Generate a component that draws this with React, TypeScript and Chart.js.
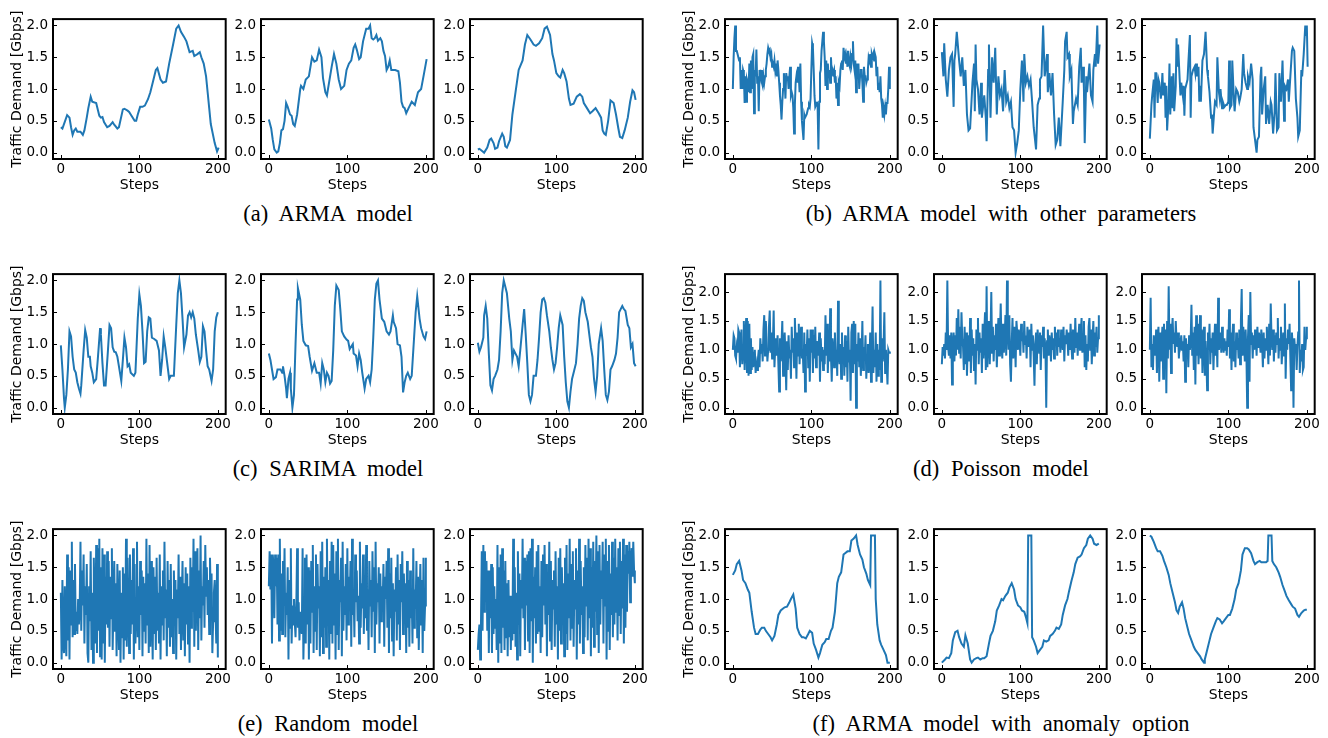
import React, { useEffect, useRef } from "react";
import { Chart, registerables } from "chart.js";
Chart.register(...registerables);

const BLUE = "#1f77b4";
const X_TICKS = [0, 100, 200];
const Y_TICKS = [0, 0.5, 1.0, 1.5, 2.0];
const Y_TITLE = "Traffic Demand [Gbps]";
const X_TITLE = "Steps";
const CAPTIONS = [
  "(a) ARMA model",
  "(b) ARMA model with other parameters",
  "(c) SARIMA model",
  "(d) Poisson model",
  "(e) Random model",
  "(f) ARMA model with anomaly option",
];

// ---- (a) ARMA model ----
const A1_STEPS = [0,2,8,11,13,15,17,19,21,25,28,30,33,35,38,40,45,49,51,53,55,59,62,66,68,72,74,79,81,85,87,89,94,96,98,101,104,107,111,114,117,121,123,127,130,134,138,143,147,150,153,157,160,164,168,170,174,177,179,182,185,187,189,191,196,199,201];
const A1_VALUES = [0.40,0.38,0.59,0.55,0.40,0.28,0.35,0.38,0.33,0.33,0.28,0.35,0.55,0.70,0.88,0.80,0.78,0.58,0.55,0.56,0.48,0.40,0.42,0.48,0.44,0.38,0.40,0.68,0.69,0.66,0.64,0.60,0.50,0.50,0.60,0.72,0.72,0.74,0.84,0.95,1.10,1.30,1.33,1.15,1.10,1.12,1.40,1.70,1.95,2.00,1.90,1.82,1.75,1.58,1.60,1.52,1.55,1.58,1.50,1.40,1.20,0.95,0.70,0.45,0.15,0.02,0.08];
const A2_STEPS = [0,3,5,7,10,12,14,16,18,20,22,24,27,29,31,33,36,40,41,44,47,51,55,58,61,64,67,69,72,74,76,80,83,86,89,92,96,99,102,105,108,110,112,115,117,120,124,127,129,131,133,135,137,139,142,144,146,148,150,152,154,156,161,165,167,169,171,173,175,178,182,186,188,190,194,197,201];
const A2_VALUES = [0.52,0.38,0.2,0.05,0.0,0.02,0.15,0.35,0.37,0.5,0.78,0.72,0.6,0.58,0.45,0.42,0.6,1.0,1.05,1.0,1.15,1.2,1.5,1.43,1.45,1.62,1.5,1.17,0.95,0.9,1.05,1.35,1.55,1.4,1.15,1.0,1.05,1.3,1.4,1.45,1.65,1.7,1.62,1.47,1.5,1.75,1.95,1.95,2.0,1.8,1.78,1.8,1.85,1.76,1.8,1.75,1.6,1.52,1.3,1.35,1.45,1.3,1.3,1.28,1.1,0.8,0.72,0.7,0.62,0.7,0.8,0.75,0.85,0.95,1.0,1.2,1.47];
const A3_STEPS = [0,2,5,8,12,15,17,20,22,25,27,31,33,35,37,41,44,48,52,57,60,63,67,71,74,78,82,85,88,92,95,97,100,103,105,108,110,113,116,118,122,126,130,133,135,140,143,146,150,154,157,159,161,163,166,169,173,176,179,181,184,187,191,194,197,199,201];
const A3_VALUES = [0.05,0.06,0.03,0.0,0.08,0.2,0.22,0.15,0.06,0.08,0.18,0.3,0.25,0.1,0.08,0.2,0.6,0.95,1.3,1.45,1.7,1.85,1.78,1.7,1.68,1.72,1.8,1.95,1.98,1.85,1.55,1.45,1.25,1.2,1.18,1.3,1.25,1.12,0.85,0.75,0.77,0.88,0.92,0.88,0.78,0.68,0.62,0.65,0.7,0.62,0.55,0.35,0.3,0.28,0.5,0.82,0.78,0.6,0.38,0.25,0.23,0.35,0.55,0.8,0.98,0.95,0.83];

// ---- (b) ARMA model with other parameters ----
const B1_VALUES = [
  1.0,1.5,1.8,2.0,1.6,1.6,1.55,1.5,1.45,1.5,1.0,1.3,1.0,1.3,1.25,0.78,1.2,0.8,1.15,1.1,
  0.95,1.4,0.95,1.45,1.0,1.5,1.55,0.62,1.3,1.2,1.62,1.1,1.2,0.65,1.3,1.2,1.3,1.1,1.05,1.2,
  1.1,1.2,1.3,1.4,1.55,1.65,1.6,1.62,1.5,1.55,1.35,1.4,1.35,1.45,1.3,1.4,1.2,1.45,1.3,1.1,
  0.9,0.75,0.52,0.8,1.0,1.25,1.1,0.85,1.25,1.15,1.2,1.0,1.2,1.35,0.9,0.95,0.9,0.7,0.3,0.75,
  1.1,1.2,1.1,1.35,1.2,0.95,1.4,0.8,0.5,0.35,0.2,0.6,0.55,0.55,0.6,0.65,0.7,0.75,0.72,0.85,
  1.3,1.72,1.65,1.3,0.9,0.72,0.75,0.8,0.72,0.05,0.8,1.25,1.3,1.6,1.75,1.9,1.75,1.5,1.05,1.45,
  1.0,1.4,1.2,1.3,1.1,1.5,1.2,1.3,1.25,1.3,1.1,1.2,0.85,1.1,0.75,1.1,1.05,1.3,1.4,1.45,
  1.3,1.65,1.5,1.55,1.4,1.5,1.35,1.6,1.4,1.35,1.5,1.4,1.55,1.75,1.4,1.3,1.45,0.95,1.4,1.2,
  1.4,1.0,1.2,1.3,1.3,1.1,0.8,1.35,1.2,1.2,1.1,1.15,1.3,1.5,1.45,1.55,1.35,1.55,1.5,1.55,
  1.45,1.55,1.5,1.2,1.35,1.0,1.1,0.95,1.2,0.85,0.75,0.55,0.7,0.6,0.72,0.6,0.78,0.78,1.0,1.35,
  1.0,
];
const B2_STEPS = [0,2,3,5,7,9,11,13,15,16,17,19,22,24,26,28,30,32,34,36,39,41,42,43,44,46,48,50,51,54,56,57,59,60,62,64,66,68,70,72,74,76,78,80,82,84,86,88,90,92,94,96,98,100,102,104,105,107,109,111,113,115,117,120,122,124,125,127,129,131,132,134,135,137,139,141,143,145,147,149,151,154,156,157,159,160,162,163,165,167,168,171,173,175,177,178,180,181,182,184,185,188,190,192,193,195,196,198,199,201];
const B2_VALUES = [1.58,1.2,1.72,1.15,0.88,1.3,1.5,1.55,0.72,1.45,1.55,1.9,1.45,1.2,1.5,1.05,1.3,0.6,0.35,0.38,1.1,1.4,0.65,1.7,1.15,1.0,0.6,1.1,0.55,0.9,0.55,0.18,1.3,1.7,0.55,1.5,1.1,1.65,0.6,1.2,0.9,1.0,0.65,1.3,0.8,0.9,0.7,0.8,0.4,0.35,0.0,0.15,0.35,1.0,1.45,0.8,1.55,1.1,1.2,1.05,1.15,0.8,0.4,0.05,0.75,0.85,1.15,1.2,2.0,1.2,1.3,1.55,0.95,1.25,0.9,1.25,0.6,0.12,0.2,0.55,0.1,0.8,1.3,1.75,1.9,1.5,1.55,1.2,1.3,0.45,0.65,0.85,0.75,1.35,1.65,1.1,1.35,1.0,0.15,1.2,0.95,1.4,0.9,0.8,1.3,1.55,1.35,2.0,1.4,1.7];
const B3_STEPS = [0,2,3,5,6,7,8,10,11,12,14,15,16,17,19,20,21,22,24,25,26,28,29,30,31,33,34,35,36,38,39,40,42,43,44,45,47,48,49,51,52,53,55,57,58,59,60,62,63,64,65,67,68,69,71,73,74,76,78,79,80,82,83,85,86,88,89,90,92,93,95,97,98,100,101,102,104,105,107,108,110,112,114,115,117,119,120,122,124,125,127,129,131,132,134,136,137,139,141,142,143,145,147,148,150,152,154,155,157,159,160,162,164,165,167,169,171,172,174,176,177,179,181,182,184,186,188,189,191,193,194,196,198,199,200,201];
const B3_VALUES = [0.22,0.75,0.9,1.15,0.55,1.25,1.25,0.78,1.15,1.1,0.85,1.0,1.25,0.9,1.1,0.55,1.05,0.35,0.85,1.4,0.6,1.2,0.7,1.25,0.65,1.05,1.8,1.35,1.7,1.15,0.9,1.1,0.9,1.05,0.58,1.0,1.1,1.15,1.4,1.85,0.55,1.2,1.3,1.35,1.25,1.4,1.2,1.35,0.8,1.05,0.8,1.45,1.5,1.55,1.9,1.3,1.2,0.95,0.55,0.6,0.3,0.65,0.8,0.75,1.5,0.95,0.85,1.0,0.7,0.8,0.72,0.75,0.75,0.8,1.45,0.7,0.75,1.45,0.85,0.65,1.0,0.95,0.8,0.85,1.0,1.55,1.25,1.1,1.0,1.2,1.1,1.4,1.15,0.4,0.2,0.0,0.2,0.25,1.2,1.35,0.6,1.0,1.2,0.45,0.75,0.45,0.8,0.75,0.3,0.65,1.25,0.35,0.4,1.25,0.8,1.45,0.5,1.05,1.0,1.15,0.8,1.2,1.6,1.65,1.6,0.85,0.55,0.25,0.35,1.3,1.2,1.55,2.0,1.85,2.0,1.35];

// ---- (c) SARIMA model ----
const C1_STEPS = [0,2,4,5,7,9,11,13,15,17,19,21,23,25,26,29,31,33,35,37,38,40,42,45,47,50,51,53,55,57,60,62,64,66,68,70,72,74,77,79,81,83,85,87,89,93,95,98,100,102,104,106,108,110,112,114,116,119,122,125,127,129,131,133,136,138,140,144,147,149,151,153,155,157,160,162,164,166,168,170,172,175,177,179,181,183,185,187,189,192,194,196,198,200];
const C1_VALUES = [0.98,0.6,0.15,0.0,0.2,0.6,1.2,1.12,0.8,0.6,0.55,0.4,0.3,0.22,0.35,0.9,1.22,1.1,0.8,0.8,0.65,0.55,0.4,0.45,0.75,1.25,1.15,0.7,0.35,0.35,0.9,1.3,1.25,0.95,0.88,0.87,0.8,0.65,0.42,0.75,1.1,0.95,0.65,0.68,0.55,0.5,0.55,1.4,1.78,1.6,1.2,0.7,0.72,1.2,1.42,1.4,1.1,1.08,1.05,0.9,0.5,0.75,1.12,0.95,0.65,0.45,0.5,0.5,1.3,1.8,2.0,1.8,1.4,0.95,1.15,1.45,1.5,1.42,1.5,1.4,1.15,0.9,0.72,0.8,1.28,1.2,0.9,0.65,0.6,0.42,0.6,1.2,1.42,1.5];
const C2_STEPS = [0,2,4,6,9,11,15,17,18,20,22,23,25,27,28,30,32,34,36,37,40,42,44,47,50,52,55,58,61,64,66,68,70,72,74,76,78,80,82,84,86,89,91,93,96,99,101,103,107,108,111,113,115,117,119,122,124,127,129,131,133,135,137,139,141,144,147,150,153,155,158,159,162,164,167,169,171,173,175,177,180,182,185,187,189,192,194,197,199,201];
const C2_VALUES = [0.85,0.75,0.6,0.45,0.48,0.6,0.6,0.55,0.65,0.5,0.3,0.15,0.45,0.55,0.3,0.0,0.2,1.0,1.7,1.88,1.7,1.3,1.05,0.98,0.97,0.8,0.58,0.7,0.55,0.55,0.38,0.7,0.6,0.4,0.55,0.5,0.38,0.42,0.9,1.6,1.92,1.85,1.55,1.2,1.12,1.07,1.05,0.92,1.0,0.85,0.82,0.65,0.85,0.75,0.55,0.3,0.45,0.5,0.4,0.6,1.1,1.7,1.95,2.0,1.7,1.4,1.35,1.2,1.15,1.2,1.45,1.35,1.25,1.0,0.98,0.8,0.24,0.4,0.5,0.55,0.45,0.5,1.1,1.5,1.75,1.4,1.25,1.12,1.08,1.2];
const C3_STEPS = [0,2,4,7,8,10,12,14,16,18,20,22,25,27,29,31,33,35,37,40,42,44,46,48,50,52,54,57,59,61,63,65,67,69,71,74,76,78,80,82,84,86,88,91,93,95,97,99,101,103,105,108,110,112,114,116,118,120,122,125,127,129,131,133,135,137,140,142,144,146,148,150,152,154,157,159,161,163,165,167,169,171,174,176,178,180,182,184,186,188,191,193,195,197,199,201];
const C3_VALUES = [1.02,0.88,0.95,1.1,1.45,1.6,1.4,0.85,0.35,0.27,0.45,0.5,0.6,0.75,1.2,1.8,2.0,1.9,1.8,1.4,1.2,0.75,0.9,0.85,0.8,0.65,0.9,1.3,1.55,1.15,0.7,0.2,0.1,0.2,0.5,0.5,0.75,1.1,1.5,1.7,1.72,1.65,1.45,1.2,0.95,0.75,0.6,0.7,0.95,1.25,1.45,1.3,0.8,0.4,0.1,0.0,0.25,0.45,0.55,0.7,1.0,1.4,1.6,1.72,1.68,1.5,1.35,1.15,0.95,0.8,0.45,0.25,0.5,1.0,1.25,1.05,0.6,0.2,0.12,0.25,0.6,0.65,0.75,0.85,1.1,1.5,1.55,1.6,1.55,1.52,1.3,1.25,0.95,1.0,0.7,0.65];

// ---- (d) Poisson model ----
const D1_VALUES = [
  1.0,1.25,1.2,0.9,0.85,1.05,0.95,1.35,1.3,0.7,1.1,1.35,0.75,1.05,1.5,0.65,1.2,1.55,0.6,1.5,
  0.55,1.45,0.6,1.2,0.65,1.05,0.7,0.95,1.0,0.6,0.75,0.65,0.85,1.0,0.7,1.2,0.95,1.1,0.8,1.35,
  1.6,0.9,1.5,1.2,0.8,1.0,1.4,1.68,0.95,1.3,0.85,1.1,1.68,0.7,1.05,1.2,0.9,1.25,0.75,0.28,
  1.2,0.8,1.1,1.5,0.55,1.0,1.3,0.9,0.3,1.15,0.65,1.25,0.85,1.0,0.5,1.4,0.95,1.2,0.7,1.55,
  1.1,0.5,1.3,0.9,1.45,0.75,1.2,1.4,0.85,1.0,0.6,1.3,0.28,1.1,0.9,1.35,0.7,1.2,0.45,1.35,
  0.95,1.35,0.6,1.25,0.85,1.4,0.7,1.15,1.0,0.9,1.3,0.45,1.2,0.8,1.05,0.65,1.0,0.75,1.6,0.9,
  1.45,0.6,1.1,0.8,1.72,0.9,0.45,1.2,1.05,0.7,1.3,0.85,1.0,0.55,1.85,0.95,0.75,1.1,0.5,1.3,
  0.8,1.05,0.55,1.25,0.7,1.15,0.45,1.4,0.8,1.0,0.12,1.3,1.45,0.6,1.5,0.75,1.45,0.0,1.1,0.8,
  1.3,0.7,1.2,0.55,0.9,1.5,0.65,1.05,0.85,1.25,0.5,0.9,1.1,0.6,0.8,1.3,0.45,0.95,1.75,0.6,
  1.0,0.7,1.3,0.45,1.1,0.55,1.0,0.65,2.2,0.45,1.2,0.8,1.05,1.65,0.6,1.0,0.75,0.4,1.0,0.95,
  0.97,
];
const D2_VALUES = [
  0.75,1.05,0.9,1.1,0.85,1.3,1.0,2.2,1.05,0.9,1.25,0.85,1.3,0.4,1.1,1.3,0.8,1.25,0.9,1.55,
  1.0,1.7,0.95,1.4,0.85,1.65,1.2,1.05,0.65,1.4,0.75,1.3,0.55,1.1,1.25,0.8,1.55,0.6,1.35,0.9,
  1.2,0.65,1.1,0.4,1.35,1.0,1.55,0.75,1.3,0.95,1.2,0.6,1.45,0.85,1.25,1.65,0.65,2.1,0.7,1.3,
  1.5,0.75,1.2,2.0,0.95,1.4,0.8,1.25,1.0,1.45,0.7,1.1,1.55,0.9,1.3,1.8,1.05,0.85,1.45,0.95,
  1.2,1.6,0.9,2.2,1.35,1.0,1.6,0.75,0.45,1.1,1.55,0.85,1.4,1.2,0.7,1.5,1.3,1.0,1.35,1.15,
  0.9,1.45,1.15,1.3,0.95,1.5,1.1,1.25,0.85,1.4,1.2,1.05,1.35,0.7,1.45,1.0,1.25,0.9,0.38,1.1,
  1.3,0.75,1.35,1.1,0.95,1.3,0.65,1.25,1.05,1.4,0.85,1.2,1.0,0.0,1.15,1.35,0.9,1.25,1.1,0.8,
  1.3,1.0,1.2,0.85,1.4,1.1,1.3,0.9,1.35,1.05,1.2,0.95,1.35,1.15,1.0,1.4,0.8,1.25,1.1,1.35,
  1.2,0.9,1.3,1.0,1.45,1.1,0.85,1.35,1.2,0.95,1.55,1.05,1.3,0.9,1.2,1.45,1.0,1.3,1.55,0.95,
  1.15,1.5,0.7,1.25,0.65,1.1,0.8,1.4,1.55,1.0,1.35,0.75,1.2,1.5,0.9,1.3,1.05,1.4,0.95,1.2,
  1.6,
];
const D3_VALUES = [
  1.0,1.9,0.7,1.1,0.65,1.25,1.05,0.9,1.35,0.6,1.2,1.4,0.45,1.3,0.8,1.15,1.4,0.5,1.45,0.9,
  1.35,0.25,1.5,0.85,2.1,1.0,1.45,0.6,1.3,1.55,1.1,1.3,0.95,1.5,1.15,1.05,1.3,0.85,1.2,1.1,
  1.25,1.0,1.15,0.8,1.25,0.45,1.2,0.95,1.1,0.7,1.25,1.0,1.15,1.78,0.9,1.3,0.65,1.4,0.4,1.6,
  0.9,1.45,0.75,1.2,1.6,0.85,1.35,0.6,1.2,1.4,0.55,1.15,0.85,0.3,1.3,1.0,1.45,0.75,1.2,0.95,
  1.3,0.65,1.1,1.45,0.9,1.25,0.7,1.9,1.0,1.15,1.3,0.95,1.4,1.1,0.95,1.2,1.0,1.15,0.9,1.35,
  1.05,1.7,0.85,1.3,0.65,1.2,1.45,0.8,1.15,0.7,1.3,1.0,1.2,0.85,1.35,0.75,1.5,2.05,0.9,1.4,
  1.1,0.8,1.35,0.95,0.0,1.2,1.6,0.45,2.0,1.1,1.3,0.85,1.25,1.0,1.35,1.2,0.9,1.4,1.05,1.3,
  1.15,0.95,1.35,1.1,0.7,1.3,0.85,1.2,1.0,1.4,1.1,0.75,1.45,0.9,1.8,1.2,1.0,1.35,0.8,1.25,
  0.95,1.3,1.1,1.55,0.85,1.2,1.0,1.4,0.75,1.1,1.3,0.9,1.8,0.5,1.2,1.0,1.35,1.1,1.45,0.85,
  0.3,1.3,1.05,0.0,1.2,1.0,1.1,0.65,1.05,1.3,2.2,0.6,1.0,0.8,1.1,0.65,0.7,1.4,1.0,1.2,
  1.4,
];

// ---- (e) Random model ----
const E1_VALUES = [
  1.1,0.05,1.3,0.3,0.15,1.2,0.4,0.1,1.7,0.35,1.5,0.05,1.45,0.6,1.9,0.4,1.3,0.45,1.55,0.5,
  0.8,0.45,1.0,0.6,0.85,1.9,0.5,1.45,0.9,1.7,0.3,1.2,0.75,1.55,0.15,0.0,1.2,0.65,1.75,0.2,
  1.1,0.0,1.65,0.9,0.3,1.85,0.15,1.8,0.5,1.95,0.1,1.5,0.05,1.8,0.3,1.7,0.0,1.35,0.6,1.75,
  0.55,1.6,0.25,1.35,0.7,1.8,0.2,0.9,1.6,0.5,1.25,0.1,1.55,0.8,0.2,1.45,0.0,1.1,0.4,1.5,
  0.05,1.4,0.35,1.95,0.25,1.65,0.9,0.15,1.7,0.45,1.3,0.6,1.8,0.05,1.55,0.3,0.85,1.9,0.4,1.2,
  0.2,1.6,0.75,1.45,0.1,1.35,0.5,1.25,0.3,1.95,0.6,1.4,0.15,1.85,0.25,1.6,0.85,0.05,1.5,0.45,
  1.35,0.2,1.65,0.5,1.1,0.3,1.7,0.05,1.2,0.6,1.45,0.35,1.9,0.7,1.15,0.1,1.6,0.55,1.3,0.25,
  1.55,0.4,1.0,0.15,1.45,0.65,1.3,0.05,1.15,0.7,1.7,0.45,1.35,0.2,0.9,1.6,0.35,1.25,0.1,1.5,
  0.6,1.4,0.3,1.2,0.0,1.65,0.55,1.5,0.8,1.95,0.25,1.75,0.5,1.3,1.8,0.2,1.45,0.7,2.0,0.35,
  1.2,0.9,1.6,0.55,1.85,1.05,1.5,0.75,1.3,0.45,1.65,1.0,1.4,0.15,0.65,1.1,1.3,0.8,0.3,1.55,
  0.08,
];
const E2_VALUES = [
  1.2,1.75,1.15,1.7,0.3,1.7,1.5,0.7,1.7,1.2,1.65,0.6,1.7,0.35,1.95,0.5,1.4,0.45,1.6,0.9,
  1.8,0.4,1.1,0.75,1.5,0.05,1.3,0.55,1.8,0.3,0.9,0.6,1.0,0.65,0.4,0.9,1.8,0.55,0.95,0.35,
  0.8,0.6,0.45,1.8,0.05,0.7,1.65,0.3,1.7,0.6,1.5,0.05,1.45,0.3,1.6,0.8,1.85,0.15,1.2,0.5,
  1.7,0.2,1.55,0.85,1.2,0.1,1.75,0.4,1.9,0.15,1.35,0.55,1.5,0.25,1.95,0.7,1.3,0.05,1.6,0.45,
  1.9,0.3,1.85,0.6,1.4,0.05,1.75,0.45,1.95,0.2,1.3,0.95,1.65,0.1,1.9,0.5,1.2,0.75,1.55,0.35,
  1.8,0.6,1.35,0.9,1.6,0.25,1.95,0.75,1.1,0.4,1.7,0.95,1.45,0.65,1.05,0.3,1.9,0.55,1.25,0.85,
  1.7,0.45,1.3,0.7,1.85,0.5,1.15,0.2,1.6,0.9,1.3,0.4,1.75,0.8,1.5,0.15,1.9,0.6,1.25,0.95,
  1.5,0.3,1.4,0.65,1.2,0.9,1.55,0.25,1.35,1.0,1.6,0.55,1.8,0.15,1.4,0.7,1.65,0.35,1.25,0.1,
  1.15,0.8,1.5,0.35,1.7,0.6,1.3,0.2,1.55,0.95,1.75,0.45,1.4,0.75,1.25,0.15,1.6,0.55,1.3,0.25,
  1.45,0.7,1.05,0.3,1.8,0.55,1.15,0.85,1.6,0.4,1.35,0.2,0.95,1.55,0.6,1.3,0.15,1.65,0.5,0.9,
  1.65,
];
const E3_VALUES = [
  0.2,0.45,0.6,0.05,0.6,1.75,0.5,1.85,0.8,1.75,1.1,1.6,0.5,1.45,0.15,1.45,0.7,1.55,0.15,1.5,
  0.45,1.2,0.55,1.0,0.2,1.85,0.0,1.5,0.3,1.7,0.15,1.8,0.55,1.45,0.2,1.6,0.4,1.25,0.1,1.3,
  0.4,1.05,0.2,0.9,0.35,1.95,0.45,1.5,0.25,1.1,0.05,1.75,0.6,1.4,0.1,1.3,0.85,1.95,0.7,1.65,
  0.2,1.6,0.9,1.7,0.35,1.75,0.15,1.8,0.65,1.95,0.0,1.35,0.7,1.5,0.3,1.75,0.45,1.85,0.5,1.2,
  0.15,1.6,0.4,1.7,0.9,1.85,0.6,1.55,0.1,1.4,0.75,1.9,0.35,1.6,0.2,1.3,0.85,1.45,0.25,1.75,
  0.6,1.2,0.05,1.65,0.5,1.8,0.3,1.5,0.9,1.25,0.1,1.65,0.45,1.85,0.2,1.4,0.7,1.95,0.35,1.55,
  0.55,1.75,0.25,1.3,0.85,1.8,0.05,1.45,0.6,1.95,0.3,1.6,0.75,1.2,0.15,1.5,0.4,1.85,0.9,1.65,
  0.35,1.95,0.7,1.8,0.1,1.5,0.55,1.9,0.25,1.6,0.8,2.0,0.45,1.75,0.15,1.85,0.6,1.45,1.0,1.9,
  0.3,1.7,0.9,1.95,0.05,1.6,0.5,1.85,0.2,1.4,0.75,1.9,0.4,1.65,0.6,1.95,0.8,1.5,0.35,1.8,
  0.75,1.9,0.45,1.6,0.85,1.95,0.3,1.7,0.55,1.85,0.8,1.75,1.4,1.9,0.95,1.6,1.8,1.35,1.9,1.45,
  1.25,
];

// ---- (f) ARMA model with anomaly option ----
const F1_STEPS = [0,3,5,8,11,13,16,19,21,24,27,29,32,35,37,40,42,45,48,50,53,56,58,61,64,66,69,72,74,77,80,82,85,88,90,93,96,98,101,103,106,109,111,114,117,119,122,125,127,130,133,135,138,141,143,146,149,151,154,157,159,162,165,167,170,172,175,176,181,182,184,187,189,192,195,197,200];
const F1_VALUES = [1.38,1.45,1.55,1.6,1.45,1.3,1.25,1.15,1.1,0.8,0.55,0.45,0.45,0.52,0.55,0.55,0.5,0.45,0.4,0.35,0.42,0.6,0.75,0.82,0.85,0.87,0.88,0.95,1.0,1.07,0.85,0.55,0.45,0.4,0.4,0.38,0.45,0.5,0.47,0.3,0.2,0.08,0.15,0.28,0.32,0.37,0.37,0.5,0.55,0.8,1.25,1.35,1.42,1.7,1.72,1.75,1.75,1.92,1.95,2.0,1.85,1.7,1.62,1.5,1.4,1.3,1.22,2.0,2.0,1.0,0.6,0.35,0.28,0.2,0.12,0.0,0.0];
const F2_STEPS = [0,4,6,9,12,14,17,20,22,25,28,30,33,36,38,41,44,46,49,52,54,57,60,62,65,68,70,73,76,78,81,84,86,89,92,94,97,100,102,105,107,109,110,114,115,117,120,122,125,128,130,133,136,138,141,144,146,149,152,154,157,160,162,165,168,170,173,176,178,181,184,186,189,192,194,197,200];
const F2_VALUES = [0.0,0.05,0.08,0.07,0.15,0.35,0.48,0.5,0.4,0.3,0.25,0.43,0.3,0.05,0.0,0.05,0.07,0.08,0.05,0.07,0.07,0.1,0.3,0.42,0.5,0.65,0.82,0.9,1.0,0.98,1.05,1.1,1.18,1.25,1.15,1.0,0.9,0.87,0.82,0.8,0.72,0.62,2.0,2.0,0.4,0.35,0.25,0.15,0.2,0.25,0.35,0.33,0.35,0.42,0.45,0.5,0.55,0.53,0.6,0.75,0.9,1.0,1.12,1.28,1.42,1.55,1.65,1.67,1.7,1.8,1.85,1.95,2.0,1.95,1.87,1.85,1.87];
const F3_STEPS = [0,2,5,8,10,13,16,18,21,24,26,29,32,34,36,38,41,43,45,48,50,53,56,58,61,64,66,69,70,73,76,78,81,84,86,89,92,94,97,100,102,105,108,110,113,116,118,121,124,126,129,132,134,137,140,142,145,148,150,151,155,156,158,161,164,166,169,172,174,177,180,182,185,188,190,193,196,198,200];
const F3_VALUES = [2.0,1.98,1.9,1.8,1.75,1.75,1.68,1.6,1.5,1.38,1.25,1.1,0.95,0.82,0.78,0.88,0.95,0.85,0.7,0.55,0.45,0.35,0.25,0.2,0.15,0.1,0.05,0.0,0.05,0.2,0.35,0.45,0.55,0.65,0.7,0.68,0.62,0.65,0.7,0.75,0.75,0.85,1.0,1.15,1.25,1.45,1.7,1.8,1.8,1.78,1.72,1.6,1.55,1.58,1.6,1.58,1.58,1.58,1.6,2.0,2.0,1.6,1.55,1.5,1.42,1.35,1.22,1.12,1.05,0.98,0.92,0.88,0.85,0.75,0.72,0.78,0.82,0.83,0.83];

// ---- layout ----
const PLOT_W = 174;
const PLOT_H = 147;
const AXIS_W = 52;
const AXIS_H = 40;
const PAD_T = 6;
const PAD_R = 6;
const GROUP_PLOT_LEFT = [
  [53, 261, 470],
  [725, 934, 1142],
];
const ROW_TOP = [12, 267, 522];
const CAPTION_X = [328, 1001];
const CAPTION_Y = [214, 469, 724];

type Panel = {
  row: number;
  group: number;
  col: number;
  steps: number[] | null;
  values: number[];
  yMin: number;
  yMax: number;
};

const NORMAL: [number, number] = [-0.1, 2.1];
const POISSON: [number, number] = [-0.11, 2.31];

function panel(row: number, group: number, col: number, values: number[], steps: number[] | null, range: [number, number]): Panel {
  return { row, group, col, steps, values, yMin: range[0], yMax: range[1] };
}

const PANELS: Panel[] = [
  panel(0, 0, 0, A1_VALUES, A1_STEPS, NORMAL),
  panel(0, 0, 1, A2_VALUES, A2_STEPS, NORMAL),
  panel(0, 0, 2, A3_VALUES, A3_STEPS, NORMAL),
  panel(0, 1, 0, B1_VALUES, null, NORMAL),
  panel(0, 1, 1, B2_VALUES, B2_STEPS, NORMAL),
  panel(0, 1, 2, B3_VALUES, B3_STEPS, NORMAL),
  panel(1, 0, 0, C1_VALUES, C1_STEPS, NORMAL),
  panel(1, 0, 1, C2_VALUES, C2_STEPS, NORMAL),
  panel(1, 0, 2, C3_VALUES, C3_STEPS, NORMAL),
  panel(1, 1, 0, D1_VALUES, null, POISSON),
  panel(1, 1, 1, D2_VALUES, null, POISSON),
  panel(1, 1, 2, D3_VALUES, null, POISSON),
  panel(2, 0, 0, E1_VALUES, null, NORMAL),
  panel(2, 0, 1, E2_VALUES, null, NORMAL),
  panel(2, 0, 2, E3_VALUES, null, NORMAL),
  panel(2, 1, 0, F1_VALUES, F1_STEPS, NORMAL),
  panel(2, 1, 1, F2_VALUES, F2_STEPS, NORMAL),
  panel(2, 1, 2, F3_VALUES, F3_STEPS, NORMAL),
];

const FONT = "'DejaVu Sans', sans-serif";
const TEXT = "#000000";

const framePlugin = {
  id: "frameTicks",
  afterDraw(chart: any) {
    const { ctx, chartArea: a, scales } = chart;
    const xs = scales.x;
    const ys = scales.y;
    ctx.save();
    ctx.strokeStyle = "#000";
    ctx.lineWidth = 1;
    ctx.beginPath();
    for (const t of xs.ticks) {
      const px = Math.round(xs.getPixelForValue(t.value)) + 0.5;
      ctx.moveTo(px, a.bottom);
      ctx.lineTo(px, a.bottom - 4);
    }
    for (const t of ys.ticks) {
      const py = Math.round(ys.getPixelForValue(t.value)) + 0.5;
      ctx.moveTo(a.left, py);
      ctx.lineTo(a.left + 4, py);
    }
    ctx.stroke();
    ctx.lineWidth = 2;
    ctx.strokeRect(a.left, a.top, a.right - a.left, a.bottom - a.top);
    ctx.restore();
  },
};

function makeChart(canvas: HTMLCanvasElement, p: Panel): Chart {
  const data = p.values.map((v, i) => ({ x: p.steps ? p.steps[i] : i, y: v }));
  const showYTitle = p.col === 0;
  return new Chart(canvas, {
    type: "line",
    data: {
      datasets: [
        {
          data,
          borderColor: BLUE,
          borderWidth: 2,
          pointRadius: 0,
          tension: 0,
          fill: false,
        },
      ],
    },
    options: {
      responsive: false,
      animation: false,
      devicePixelRatio: 1,
      layout: { padding: { top: PAD_T, right: PAD_R, left: 0, bottom: 0 } },
      plugins: { legend: { display: false }, tooltip: { enabled: false } },
      scales: {
        x: {
          type: "linear",
          min: -10,
          max: 210,
          grid: { display: false, drawTicks: false },
          border: { display: false },
          afterBuildTicks: (s: any) => {
            s.ticks = X_TICKS.map((v) => ({ value: v }));
          },
          afterFit: (s: any) => {
            s.height = AXIS_H;
          },
          ticks: {
            padding: 2,
            maxRotation: 0,
            autoSkip: false,
            color: TEXT,
            font: { family: FONT, size: 13.5 },
            callback: (v: any) => String(v),
          },
          title: {
            display: true,
            text: X_TITLE,
            color: TEXT,
            font: { family: FONT, size: 14 },
            padding: { top: 0, bottom: 5.6 },
          },
        },
        y: {
          type: "linear",
          min: p.yMin,
          max: p.yMax,
          grid: { display: false, drawTicks: false },
          border: { display: false },
          afterBuildTicks: (s: any) => {
            s.ticks = Y_TICKS.map((v) => ({ value: v }));
          },
          afterFit: (s: any) => {
            s.width = AXIS_W;
          },
          ticks: {
            padding: 5,
            autoSkip: false,
            color: TEXT,
            font: { family: FONT, size: 13.5 },
            callback: (v: any) => Number(v).toFixed(1),
          },
          title: {
            display: showYTitle,
            text: Y_TITLE,
            color: TEXT,
            font: { family: FONT, size: 14 },
            padding: { top: 7.6, bottom: 0 },
          },
        },
      },
    },
    plugins: [framePlugin],
  } as any);
}

export default function App() {
  const refs = useRef<(HTMLCanvasElement | null)[]>([]);

  useEffect(() => {
    const charts: Chart[] = [];
    PANELS.forEach((p, i) => {
      const c = refs.current[i];
      if (c) charts.push(makeChart(c, p));
    });
    return () => charts.forEach((c) => c.destroy());
  }, []);

  const W = AXIS_W + PLOT_W + PAD_R;
  const H = PAD_T + PLOT_H + AXIS_H;

  return (
    <div style={{ position: "absolute", left: 0, top: 0, width: 1328, height: 738, background: "#fff", overflow: "hidden" }}>
      {PANELS.map((p, i) => {
        const left = GROUP_PLOT_LEFT[p.group][p.col] - AXIS_W;
        const top = ROW_TOP[p.row] - PAD_T;
        return (
          <canvas
            key={i}
            ref={(el) => {
              refs.current[i] = el;
            }}
            width={W}
            height={H}
            style={{ position: "absolute", left, top, width: W, height: H }}
          />
        );
      })}
      {CAPTIONS.map((t, i) => {
        const row = Math.floor(i / 2);
        const group = i % 2;
        return (
          <div
            key={t}
            style={{
              position: "absolute",
              left: CAPTION_X[group] - 300,
              width: 600,
              top: CAPTION_Y[row] - 15,
              height: 30,
              lineHeight: "30px",
              textAlign: "center",
              fontFamily: "'Liberation Serif', 'Times New Roman', serif",
              fontSize: 22.5,
              wordSpacing: 6,
              color: "#000",
              whiteSpace: "nowrap",
            }}
          >
            {t}
          </div>
        );
      })}
    </div>
  );
}
